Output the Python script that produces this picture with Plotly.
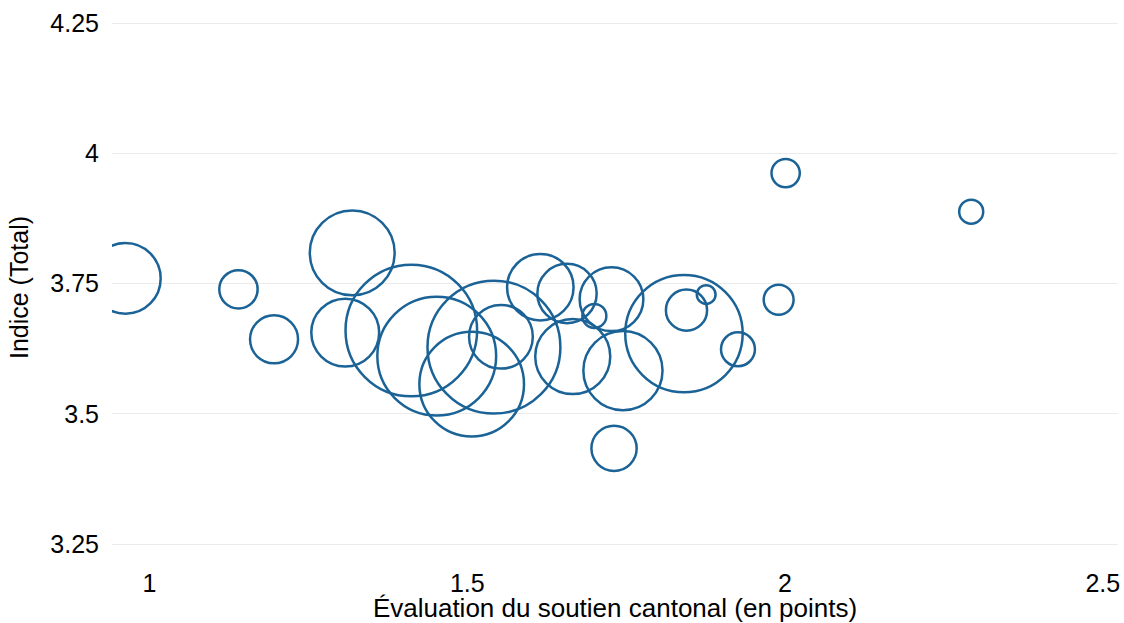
import plotly.graph_objects as go

# Évaluation du soutien cantonal (x), Indice total (y), poids des bulles (effectif)
soutien = [0.962, 1.140, 1.196, 1.319, 1.308, 1.412, 1.452, 1.507, 1.542, 1.553,
           1.615, 1.657, 1.727, 1.700, 1.666, 1.745, 1.731, 1.841, 1.845, 1.876,
           1.926, 1.990, 2.001, 2.293]
indice = [3.760, 3.739, 3.643, 3.809, 3.656, 3.660, 3.611, 3.557, 3.628, 3.648,
          3.743, 3.731, 3.720, 3.688, 3.610, 3.583, 3.434, 3.654, 3.699, 3.729,
          3.624, 3.719, 3.962, 3.888]
effectif = [156, 46, 72, 225, 144, 541, 441, 342, 552, 127,
            138, 110, 127, 18, 176, 196, 64, 431, 53, 11,
            36, 28, 25, 18]

x_ticks = [1, 1.5, 2, 2.5]
x_labels = ["1", "1.5", "2", "2.5"]
y_ticks = [3.25, 3.5, 3.75, 4, 4.25]
y_labels = ["3.25", "3.5", "3.75", "4", "4.25"]

bubble_color = "#1b6396"
font_family = "Arial, 'Liberation Sans', sans-serif"

fig = go.Figure()
fig.add_trace(go.Scatter(
    x=soutien, y=indice, mode="markers",
    marker=dict(
        size=effectif, sizemode="area", sizeref=1 / 16,
        color="rgba(0,0,0,0)", opacity=1,
        line=dict(color=bubble_color, width=2.5),
    ),
    showlegend=False,
))

fig.update_layout(
    width=1124, height=623,
    font=dict(family=font_family, size=25, color="black"),
    paper_bgcolor="white",
    plot_bgcolor="white",
    margin=dict(l=112, r=6, t=10, b=58),
)
fig.update_xaxes(
    range=[0.941, 2.524],
    tickvals=x_ticks, ticktext=x_labels,
    tickfont=dict(size=25),
    showgrid=False, zeroline=False, showline=False,
    ticklabelstandoff=1, automargin=False,
    title=dict(text="Évaluation du soutien cantonal (en points)", standoff=3,
               font=dict(size=26)),
)
fig.update_yaxes(
    range=[3.21, 4.275],
    tickvals=y_ticks, ticktext=y_labels,
    tickfont=dict(size=25),
    showgrid=True, gridcolor="#ebebeb", gridwidth=1,
    zeroline=False, showline=False,
    ticklabelstandoff=12, automargin=False,
    title=dict(text="Indice (Total)", standoff=14, font=dict(size=25)),
)

# drop the browser's default 8px body margin so the figure fills the window
fig.write_html(
    "out.html",
    config={"displayModeBar": False},
    post_script="document.body.style.margin = '0';",
)
